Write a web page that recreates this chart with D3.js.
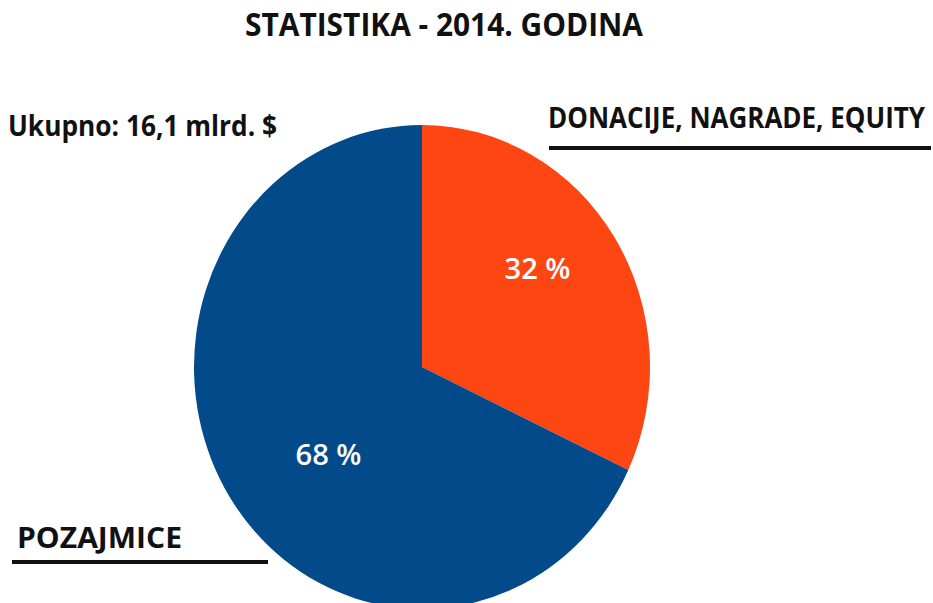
<!DOCTYPE html>
<html>
<head>
<meta charset="utf-8">
<title>Statistika - 2014. godina</title>
<script src="https://d3js.org/d3.v7.min.js"></script>
<style>
  body { margin: 0; background: #fff; }
  svg text { font-family: "Open Sans", "Noto Sans", sans-serif; }
</style>
</head>
<body>
<svg width="933" height="603"></svg>
<script>
// data
var categories = ["DONACIJE, NAGRADE, EQUITY", "POZAJMICE"];
var shares = [32, 68];
var labels = ["32 %", "68 %"];
var titleText = "STATISTIKA - 2014. GODINA";
var totalText = "Ukupno: 16,1 mlrd. $";

var svg = d3.select("svg");
var cx = 422, cy = 367, rx = 228, ry = 242;
var color = d3.scaleOrdinal().domain(categories).range(["#fe4612", "#024a8a"]);

var pie = d3.pie().sort(null).value(function(d) { return d.value; });
var arcs = pie(categories.map(function(c, i) { return { name: c, value: shares[i], label: labels[i] }; }));

// pie drawn at radius ry, squeezed horizontally to the ellipse of the picture
var arc = d3.arc().innerRadius(0).outerRadius(ry);
var g = svg.append("g")
  .attr("transform", "translate(" + cx + "," + cy + ") scale(" + (rx / ry) + ",1)");

g.selectAll("path")
  .data(arcs)
  .enter().append("path")
  .attr("d", arc)
  .attr("fill", function(d) { return color(d.data.name); });

// percent labels, nudged to where they sit in the original
var labelArc = d3.arc().innerRadius(ry * 0.6).outerRadius(ry * 0.6);
var nudge = [[0, -20], [22, 10]];
svg.selectAll(".pct")
  .data(arcs)
  .enter().append("text")
  .attr("class", "pct")
  .attr("x", function(d, i) { return cx + labelArc.centroid(d)[0] * rx / ry + nudge[i][0]; })
  .attr("y", function(d, i) { return cy + labelArc.centroid(d)[1] + nudge[i][1]; })
  .attr("text-anchor", "middle")
  .attr("dy", "0.35em")
  .attr("fill", "#fff")
  .attr("font-size", 29)
  .attr("font-weight", 600)
  .attr("textLength", 66)
  .attr("lengthAdjust", "spacingAndGlyphs")
  .text(function(d) { return d.data.label; });

// title
svg.append("text")
  .attr("x", 444).attr("y", 36)
  .attr("text-anchor", "middle")
  .attr("font-size", 32).attr("font-weight", 700).attr("fill", "#111")
  .attr("textLength", 398).attr("lengthAdjust", "spacingAndGlyphs")
  .text(titleText);

svg.append("text")
  .attr("x", 8).attr("y", 136)
  .attr("font-size", 29).attr("font-weight", 700).attr("fill", "#111")
  .attr("textLength", 269).attr("lengthAdjust", "spacingAndGlyphs")
  .text(totalText);

// category labels with underline
svg.append("text")
  .attr("x", 548).attr("y", 128)
  .attr("font-size", 28).attr("font-weight", 700).attr("fill", "#111")
  .attr("textLength", 377).attr("lengthAdjust", "spacingAndGlyphs")
  .text(categories[0]);
svg.append("line")
  .attr("x1", 549).attr("x2", 931).attr("y1", 148).attr("y2", 148)
  .attr("stroke", "#111").attr("stroke-width", 4);

svg.append("text")
  .attr("x", 17).attr("y", 548)
  .attr("font-size", 29).attr("font-weight", 700).attr("fill", "#111")
  .attr("textLength", 165).attr("lengthAdjust", "spacingAndGlyphs")
  .text(categories[1]);
svg.append("line")
  .attr("x1", 12).attr("x2", 268).attr("y1", 562).attr("y2", 562)
  .attr("stroke", "#111").attr("stroke-width", 4);
</script>
</body>
</html>
